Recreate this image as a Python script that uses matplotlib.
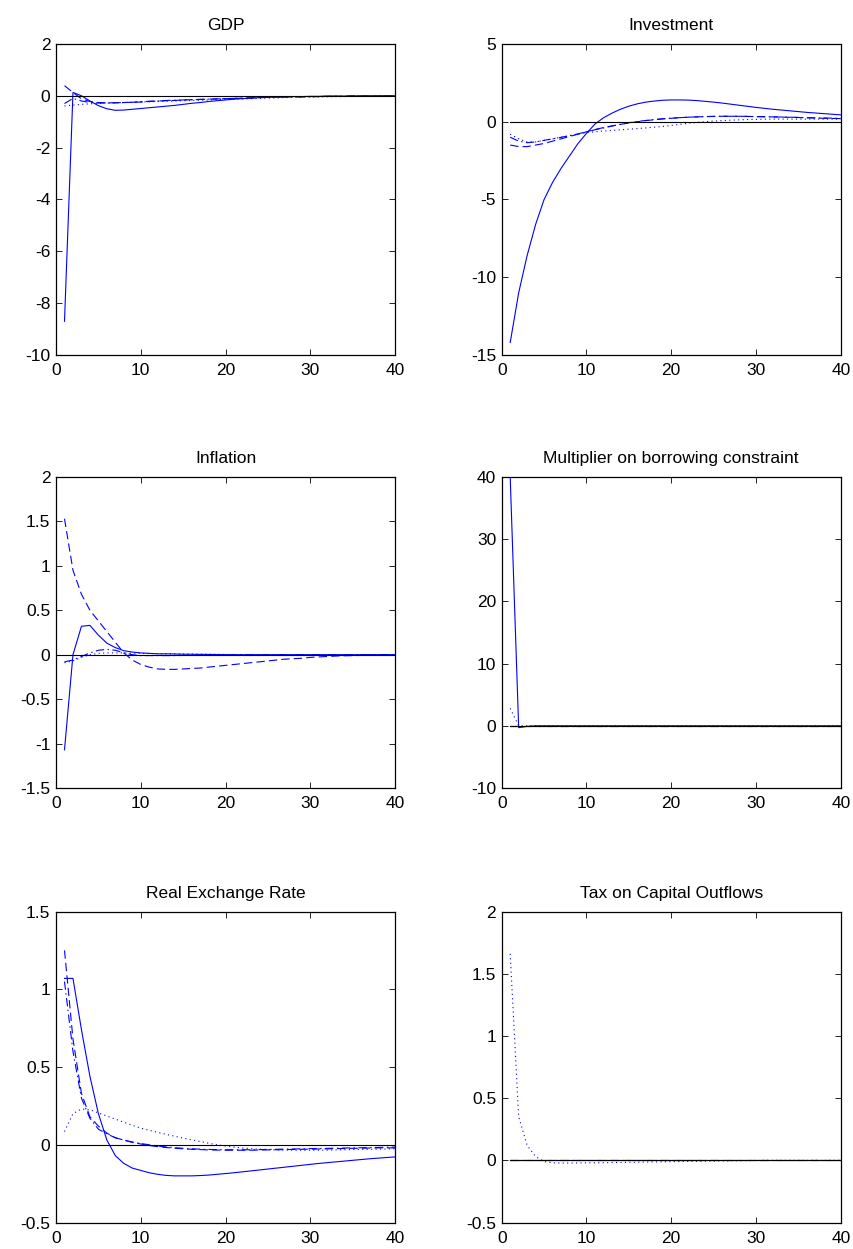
import matplotlib
matplotlib.use("Agg")
import matplotlib.pyplot as plt
from matplotlib.ticker import FuncFormatter

plt.rcParams["font.family"] = ["Liberation Sans", "DejaVu Sans"]
plt.rcParams["axes.unicode_minus"] = False
plt.rcParams["lines.scale_dashes"] = False

blue = "#0000ff"

t = list(range(1, 41))

# GDP
gdp_solid = [-8.7, 0.13, 0.0, -0.2, -0.38, -0.5, -0.56, -0.55, -0.52, -0.49,
             -0.46, -0.43, -0.4, -0.37, -0.33, -0.29, -0.26, -0.22, -0.19, -0.16,
             -0.13, -0.11, -0.09, -0.07, -0.06, -0.05, -0.04, -0.03, -0.03, -0.02,
             -0.02, -0.01, -0.01, -0.01, 0.0, 0.0, 0.0, 0.0, 0.0, 0.0]
gdp_dashed = [0.39, 0.13, -0.12, -0.22, -0.26, -0.27, -0.27, -0.26, -0.25, -0.24,
              -0.22, -0.2, -0.19, -0.18, -0.16, -0.15, -0.14, -0.13, -0.12, -0.11,
              -0.1, -0.09, -0.08, -0.07, -0.06, -0.05, -0.05, -0.04, -0.04, -0.03,
              -0.03, -0.02, -0.02, -0.02, -0.01, -0.01, -0.01, -0.01, 0.0, 0.0]
gdp_dotted = [-0.39, -0.36, -0.33, -0.31, -0.29, -0.28, -0.27, -0.26, -0.25, -0.24,
              -0.23, -0.22, -0.21, -0.2, -0.19, -0.18, -0.17, -0.16, -0.15, -0.14,
              -0.13, -0.12, -0.11, -0.1, -0.09, -0.08, -0.07, -0.06, -0.05, -0.05,
              -0.04, -0.04, -0.03, -0.03, -0.02, -0.02, -0.01, -0.01, -0.01, 0.0]
gdp_dashdot = [-0.3, -0.1, -0.2, -0.26, -0.28, -0.28, -0.27, -0.26, -0.25, -0.23,
               -0.21, -0.2, -0.18, -0.17, -0.16, -0.15, -0.14, -0.13, -0.12, -0.11,
               -0.1, -0.09, -0.08, -0.07, -0.06, -0.05, -0.05, -0.04, -0.04, -0.03,
               -0.03, -0.02, -0.02, -0.02, -0.01, -0.01, -0.01, -0.01, 0.0, 0.0]

# Investment
inv_solid = [-14.2, -11.0, -8.6, -6.6, -5.0, -3.9, -3.0, -2.2, -1.4, -0.75,
             -0.15, 0.25, 0.55, 0.8, 1.0, 1.15, 1.26, 1.33, 1.38, 1.4,
             1.4, 1.39, 1.36, 1.31, 1.26, 1.2, 1.13, 1.06, 0.99, 0.92,
             0.86, 0.8, 0.75, 0.7, 0.65, 0.6, 0.56, 0.52, 0.48, 0.44]
inv_dashed = [-1.5, -1.6, -1.6, -1.5, -1.4, -1.25, -1.1, -0.95, -0.8, -0.65,
              -0.5, -0.38, -0.27, -0.17, -0.08, 0.0, 0.07, 0.13, 0.18, 0.22,
              0.26, 0.29, 0.31, 0.33, 0.34, 0.35, 0.35, 0.35, 0.34, 0.33,
              0.32, 0.31, 0.3, 0.28, 0.27, 0.25, 0.24, 0.22, 0.21, 0.2]
inv_dotted = [-0.8, -1.1, -1.3, -1.3, -1.2, -1.1, -1.0, -0.9, -0.8, -0.7,
              -0.65, -0.6, -0.56, -0.52, -0.48, -0.44, -0.4, -0.35, -0.3, -0.24,
              -0.17, -0.1, -0.04, 0.0, 0.04, 0.07, 0.1, 0.12, 0.14, 0.15,
              0.16, 0.17, 0.17, 0.17, 0.17, 0.17, 0.17, 0.17, 0.17, 0.17]
inv_dashdot = [-1.0, -1.25, -1.35, -1.3, -1.2, -1.1, -1.0, -0.9, -0.78, -0.65,
               -0.52, -0.4, -0.28, -0.17, -0.07, 0.02, 0.08, 0.14, 0.19, 0.23,
               0.26, 0.29, 0.31, 0.33, 0.34, 0.35, 0.35, 0.35, 0.34, 0.33,
               0.32, 0.31, 0.3, 0.29, 0.28, 0.26, 0.25, 0.24, 0.23, 0.22]

# Inflation
inf_solid = [-1.07, 0.0, 0.32, 0.33, 0.22, 0.13, 0.08, 0.045, 0.03, 0.02,
             0.015, 0.01, 0.01, 0.008, 0.006, 0.005, 0.004, 0.003, 0.002, 0.001,
             0.0, 0.0, 0.0, 0.0, 0.0, 0.0, 0.0, 0.0, 0.0, 0.0,
             0.0, 0.0, 0.0, 0.0, 0.0, 0.0, 0.0, 0.0, 0.0, 0.0]
inf_dashed = [1.53, 0.95, 0.68, 0.5, 0.38, 0.26, 0.14, 0.02, -0.06, -0.11,
              -0.14, -0.16, -0.165, -0.165, -0.16, -0.155, -0.15, -0.14, -0.13, -0.12,
              -0.11, -0.1, -0.09, -0.08, -0.07, -0.06, -0.05, -0.045, -0.04, -0.03,
              -0.025, -0.02, -0.015, -0.012, -0.01, -0.008, -0.005, -0.003, 0.0, 0.0]
inf_dotted = [-0.09, -0.07, -0.03, 0.0, 0.015, 0.02, 0.02, 0.02, 0.018, 0.016,
              0.014, 0.012, 0.01, 0.01, 0.008, 0.007, 0.006, 0.005, 0.004, 0.003,
              0.002, 0.001, 0.0, 0.0, 0.0, 0.0, 0.0, 0.0, 0.0, 0.0,
              0.0, 0.0, 0.0, 0.0, 0.0, 0.0, 0.0, 0.0, 0.0, 0.0]
inf_dashdot = [-0.08, -0.06, -0.02, 0.02, 0.05, 0.06, 0.05, 0.02, 0.0, -0.01,
               -0.01, -0.01, -0.01, -0.01, -0.008, -0.007, -0.006, -0.005, -0.004, -0.003,
               -0.002, -0.001, 0.0, 0.0, 0.0, 0.0, 0.0, 0.0, 0.0, 0.0,
               0.0, 0.0, 0.0, 0.0, 0.0, 0.0, 0.0, 0.0, 0.0, 0.0]

# Multiplier on borrowing constraint
mul_solid = [40.0, -0.3, -0.1] + [0.0] * 37
mul_dashed = [0.0] * 40
mul_dotted = [2.8, 0.0] + [0.0] * 38
mul_dashdot = [0.0] * 40

# Real exchange rate
rer_solid = [1.07, 1.07, 0.74, 0.44, 0.2, 0.03, -0.07, -0.12, -0.15, -0.165,
             -0.18, -0.19, -0.197, -0.2, -0.2, -0.2, -0.198, -0.195, -0.19, -0.185,
             -0.18, -0.174, -0.168, -0.162, -0.156, -0.15, -0.144, -0.138, -0.132, -0.126,
             -0.12, -0.115, -0.11, -0.105, -0.1, -0.095, -0.09, -0.086, -0.082, -0.078]
rer_dashed = [1.25, 0.68, 0.33, 0.18, 0.12, 0.075, 0.045, 0.03, 0.015, 0.005,
              -0.005, -0.012, -0.018, -0.022, -0.026, -0.029, -0.031, -0.033, -0.034, -0.035,
              -0.035, -0.035, -0.035, -0.034, -0.033, -0.032, -0.031, -0.03, -0.029, -0.028,
              -0.027, -0.026, -0.025, -0.024, -0.023, -0.022, -0.021, -0.02, -0.02, -0.02]
rer_dotted = [0.085, 0.2, 0.23, 0.225, 0.205, 0.185, 0.165, 0.145, 0.125, 0.107,
              0.093, 0.08, 0.067, 0.055, 0.043, 0.032, 0.021, 0.01, 0.0, -0.008,
              -0.015, -0.021, -0.025, -0.028, -0.031, -0.033, -0.034, -0.035, -0.035, -0.035,
              -0.035, -0.034, -0.033, -0.032, -0.031, -0.03, -0.029, -0.028, -0.027, -0.026]
rer_dashdot = [1.05, 0.6, 0.3, 0.17, 0.1, 0.07, 0.045, 0.03, 0.018, 0.008,
               0.0, -0.008, -0.014, -0.019, -0.023, -0.026, -0.028, -0.03, -0.031, -0.032,
               -0.032, -0.032, -0.032, -0.031, -0.03, -0.029, -0.028, -0.027, -0.026, -0.025,
               -0.024, -0.023, -0.022, -0.021, -0.02, -0.019, -0.018, -0.017, -0.016, -0.015]

# Tax on capital outflows
tax_solid = [0.0] * 40
tax_dashed = [0.0] * 40
tax_dotted = [1.66, 0.35, 0.12, 0.03, -0.01, -0.02, -0.022, -0.022, -0.021, -0.02,
              -0.02, -0.019, -0.018, -0.017, -0.016, -0.015, -0.014, -0.013, -0.012, -0.011,
              -0.01, -0.009, -0.008, -0.007, -0.006, -0.005, -0.004, -0.003, -0.002, -0.001,
              0.0, 0.0, 0.0, 0.0, 0.0, 0.0, 0.0, 0.0, 0.0, 0.0]
tax_dashdot = [0.0] * 40

titles = ["GDP", "Investment", "Inflation", "Multiplier on borrowing constraint",
          "Real Exchange Rate", "Tax on Capital Outflows"]
series = [
    (gdp_solid, gdp_dashed, gdp_dotted, gdp_dashdot),
    (inv_solid, inv_dashed, inv_dotted, inv_dashdot),
    (inf_solid, inf_dashed, inf_dotted, inf_dashdot),
    (mul_solid, mul_dashed, mul_dotted, mul_dashdot),
    (rer_solid, rer_dashed, rer_dotted, rer_dashdot),
    (tax_solid, tax_dashed, tax_dotted, tax_dashdot),
]
ylims = [(-10, 2), (-15, 5), (-1.5, 2), (-10, 40), (-0.5, 1.5), (-0.5, 2)]
yticks = [
    [-10, -8, -6, -4, -2, 0, 2],
    [-15, -10, -5, 0, 5],
    [-1.5, -1, -0.5, 0, 0.5, 1, 1.5, 2],
    [-10, 0, 10, 20, 30, 40],
    [-0.5, 0, 0.5, 1, 1.5],
    [-0.5, 0, 0.5, 1, 1.5, 2],
]
zero_start = [0, 1, 0, 1, 0, 1]

styles = [
    dict(linestyle="-"),
    dict(linestyle=(0, (6, 3))),
    dict(linestyle=(0, (0.8, 2.4))),
    dict(linestyle=(0, (6, 2.5, 1, 2.5))),
]

fig = plt.figure(figsize=(8.54, 12.49), dpi=100)
lefts = [0.0656, 0.5875]
bottoms = [0.7158, 0.3691, 0.0212]
w, h = 0.397, 0.249

for i in range(6):
    ax = fig.add_axes([lefts[i % 2], bottoms[i // 2], w, h])
    for s, st in zip(series[i], styles):
        ax.plot(t, s, color=blue, linewidth=0.8, **st)
    ax.plot([zero_start[i], 40], [0, 0], color="black", linewidth=0.8)
    ax.set_xlim(0, 40)
    ax.set_ylim(*ylims[i])
    ax.set_xticks([0, 10, 20, 30, 40])
    ax.set_yticks(yticks[i])
    ax.yaxis.set_major_formatter(FuncFormatter(lambda v, p: "%g" % v))
    ax.tick_params(direction="in", top=True, right=True, length=4,
                   width=0.6, labelsize=12.5)
    ax.tick_params(axis="x", pad=6)
    ax.tick_params(axis="y", pad=4)
    for sp in ax.spines.values():
        sp.set_linewidth(0.9)
    ax.set_title(titles[i], fontsize=12.5, pad=10)

fig.savefig("out.png", dpi=100)
